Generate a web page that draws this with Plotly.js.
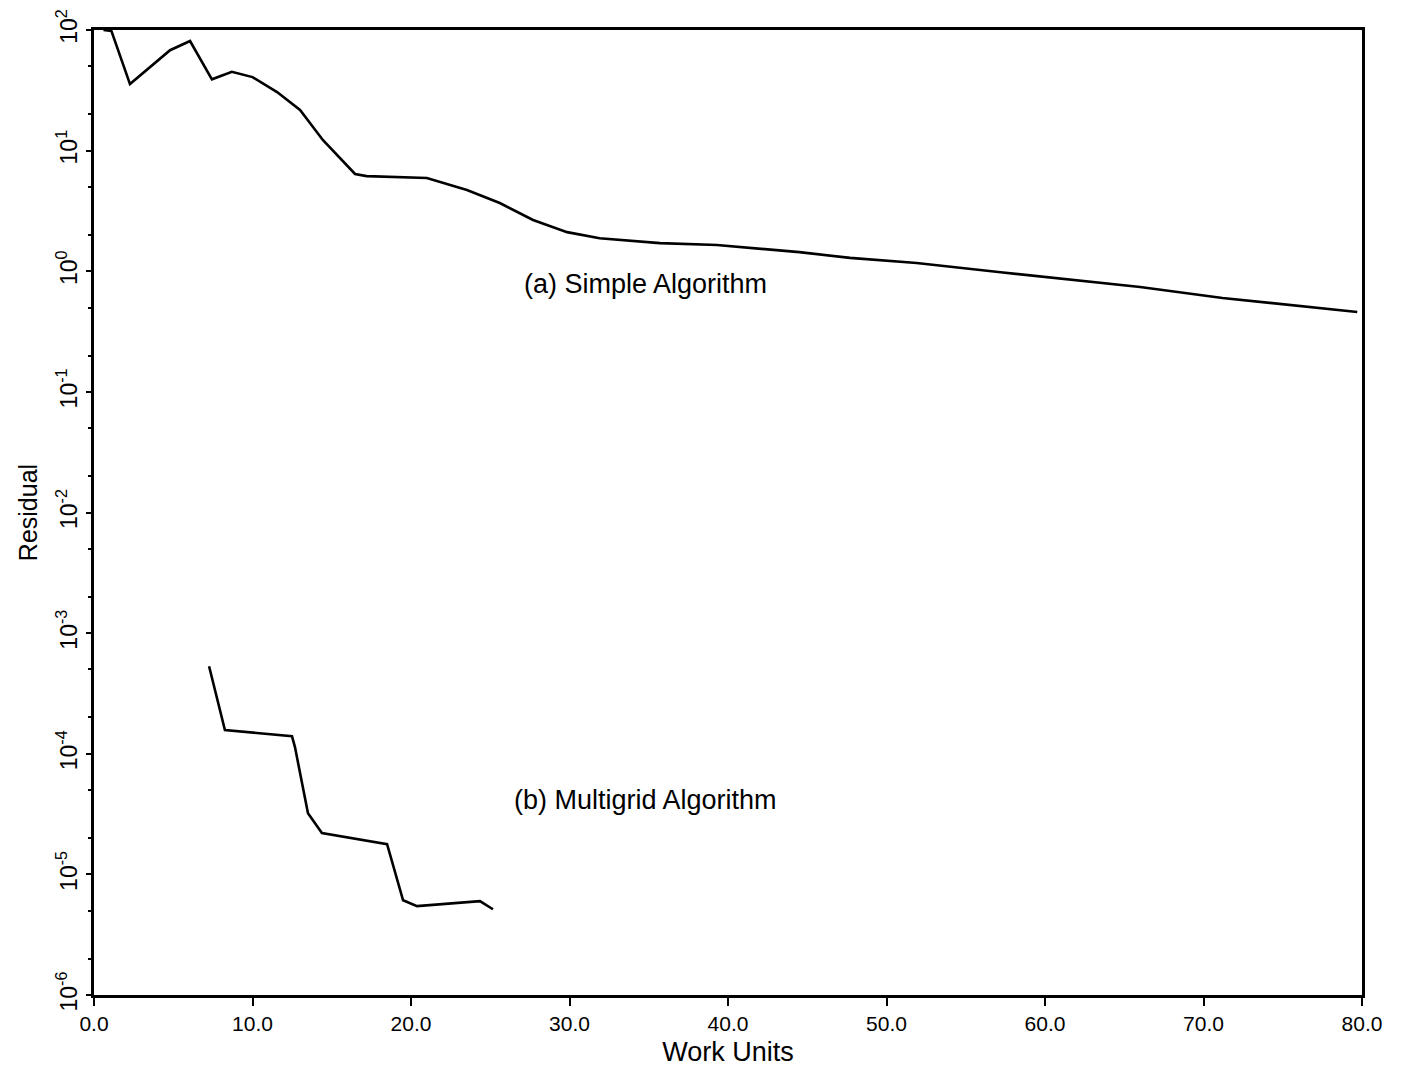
<!DOCTYPE html>
<html>
<head>
<meta charset="utf-8">
<script src="https://cdn.plot.ly/plotly-3.0.1.min.js"></script>
<style>html,body{margin:0;padding:0;background:#fff;}#chart{width:1402px;height:1070px;}</style>
</head>
<body>
<div id="chart"></div>
<script>
// Simple Algorithm residual history
const simpleWork = [0.6, 1.1, 2.27, 4.8, 6.06, 7.44, 8.7, 10.0, 11.55, 13.0, 14.45, 15.5, 16.47, 17.2, 21.0, 23.53, 25.6, 27.7, 29.85, 31.9, 35.7, 39.3, 44.5, 47.7, 51.9, 57.2, 63.9, 66.0, 71.2, 79.7];
const simpleResidual = [100, 98, 35.6, 68, 81, 39, 45, 40.7, 30.6, 21.7, 12.2, 8.7, 6.4, 6.15, 5.93, 4.71, 3.68, 2.66, 2.11, 1.88, 1.71, 1.65, 1.44, 1.29, 1.17, 0.98, 0.80, 0.74, 0.60, 0.46];

// Multigrid Algorithm residual history
const mgWork = [7.26, 8.26, 12.49, 12.68, 13.5, 14.38, 18.49, 19.5, 20.38, 24.35, 25.17];
const mgResidual = [5.32e-4, 1.57e-4, 1.40e-4, 1.135e-4, 3.21e-5, 2.20e-5, 1.78e-5, 6.1e-6, 5.45e-6, 6.0e-6, 5.14e-6];

// Axis ticks
const xTickVals = [0, 10, 20, 30, 40, 50, 60, 70, 80];
const xTickText = ["0.0", "10.0", "20.0", "30.0", "40.0", "50.0", "60.0", "70.0", "80.0"];
const yTickVals = [1e-6, 1e-5, 1e-4, 1e-3, 1e-2, 1e-1, 1e0, 1e1, 1e2];
const yTickText = ["10<sup>-6</sup>", "10<sup>-5</sup>", "10<sup>-4</sup>", "10<sup>-3</sup>", "10<sup>-2</sup>", "10<sup>-1</sup>", "10<sup>0</sup>", "10<sup>1</sup>", "10<sup>2</sup>"];

const labels = [
  {text: "(a) Simple Algorithm", x: 34.8, y: 0.78},
  {text: "(b) Multigrid Algorithm", x: 34.8, y: 4.1e-5}
];

const font = "Liberation Sans, Arial, sans-serif";

const traces = [
  {x: simpleWork, y: simpleResidual, mode: "lines", line: {color: "#000", width: 2.6}, name: "Simple", showlegend: false, hoverinfo: "skip"},
  {x: mgWork, y: mgResidual, mode: "lines", line: {color: "#000", width: 2.6}, name: "Multigrid", showlegend: false, hoverinfo: "skip"}
];

const layout = {
  width: 1402, height: 1070,
  margin: {l: 94, r: 40, t: 30, b: 75},
  paper_bgcolor: "#fff", plot_bgcolor: "#fff",
  font: {family: font, color: "#000", size: 20},
  showlegend: false,
  xaxis: {
    range: [0, 80], tickvals: xTickVals, ticktext: xTickText,
    showgrid: false, zeroline: false, showline: true, linecolor: "#000", linewidth: 3, mirror: true,
    ticks: "outside", ticklen: 8, tickwidth: 2, tickcolor: "#000",
    tickfont: {family: font, size: 21, color: "#000"},
    title: {text: "Work Units", font: {family: font, size: 27, color: "#000"}, standoff: 8}
  },
  yaxis: {
    type: "log", range: [-6, 2], tickvals: yTickVals, ticktext: yTickText,
    showgrid: false, zeroline: false, showline: true, linecolor: "#000", linewidth: 3, mirror: true,
    ticks: "outside", ticklen: 5, tickwidth: 2, tickcolor: "#000", tickangle: -90,
    tickfont: {family: font, size: 23, color: "#000"},
    minor: {ticks: "outside", ticklen: 3, tickwidth: 2, tickcolor: "#000", showgrid: false},
    title: {text: "Residual", font: {family: font, size: 25, color: "#000"}, standoff: 8}
  },
  annotations: labels.map(l => ({
    x: l.x, y: Math.log10(l.y), xref: "x", yref: "y", text: l.text, showarrow: false,
    font: {family: font, size: 27, color: "#000"}
  }))
};

Plotly.newPlot("chart", traces, layout, {staticPlot: true});
</script>
</body>
</html>
